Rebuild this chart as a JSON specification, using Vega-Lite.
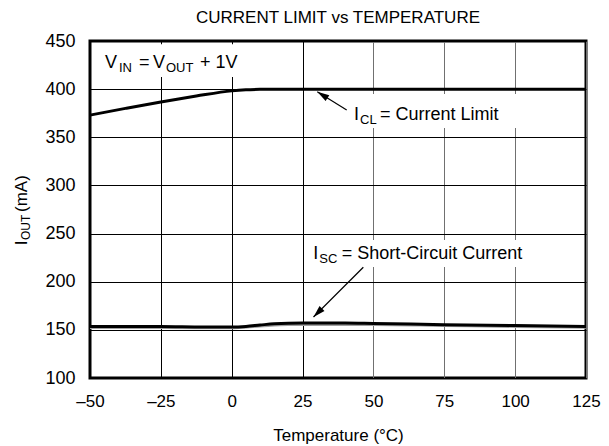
{
  "$schema": "https://vega.github.io/schema/vega-lite/v6.json",
  "autosize": "none",
  "width": 496,
  "height": 337,
  "padding": {"left": 90, "top": 41, "right": 23, "bottom": 68},
  "background": "white",
  "title": {"text": "CURRENT LIMIT vs TEMPERATURE", "fontSize": 17, "fontWeight": "normal", "font": "Liberation Sans", "color": "black", "anchor": "middle", "offset": 5},
  "config": {
    "view": {"stroke": "black", "strokeWidth": 3},
    "font": "Liberation Sans"
  },
  "datasets": {
    "cl": [
      {"t": -50, "v": 373}, {"t": -37.5, "v": 380}, {"t": -25, "v": 386.7}, {"t": -12.5, "v": 392.8},
      {"t": 0, "v": 398.2}, {"t": 5, "v": 399.3}, {"t": 10, "v": 399.8}, {"t": 15, "v": 400},
      {"t": 50, "v": 400}, {"t": 100, "v": 400}, {"t": 125, "v": 400}
    ],
    "sc": [
      {"t": -50, "v": 153.5}, {"t": -25, "v": 153.5}, {"t": -10, "v": 153}, {"t": 0, "v": 153},
      {"t": 5, "v": 153.6}, {"t": 10, "v": 155}, {"t": 15, "v": 156.3}, {"t": 25, "v": 157},
      {"t": 40, "v": 157}, {"t": 50, "v": 156.6}, {"t": 75, "v": 155.4}, {"t": 100, "v": 154.4}, {"t": 125, "v": 153.6}
    ],
    "sc2": [
      {"t": -50, "v": 151.8}, {"t": -25, "v": 151.8}, {"t": 0, "v": 151.6}, {"t": 10, "v": 153.5},
      {"t": 20, "v": 155}, {"t": 50, "v": 155}, {"t": 75, "v": 154}, {"t": 100, "v": 153}, {"t": 125, "v": 152.3}
    ],
    "boxes": [
      {"t1": -48.2, "t2": 4.7, "v1": 446.5, "v2": 412.6},
      {"t1": 40.0, "t2": 101.7, "v1": 395, "v2": 359.6},
      {"t1": 26.9, "t2": 107.0, "v1": 243.3, "v2": 215.3}
    ],
    "arrows": [
      {"t1": 40.57, "v1": 378.3, "t2": 30.19, "v2": 397.3, "ang": 302},
      {"t1": 46.43, "v1": 215.0, "t2": 28.86, "v2": 163.4, "ang": 225}
    ],
    "mainText": [
      {"t": -44.71, "v": 422, "s": "V"},
      {"t": -32.7, "v": 422, "s": "="},
      {"t": -27.77, "v": 422, "s": "V"},
      {"t": -11.2, "v": 422, "s": "+ 1V"},
      {"t": 43.15, "v": 368, "s": "I"},
      {"t": 52.32, "v": 368, "s": "= Current Limit"},
      {"t": 28.79, "v": 223.6, "s": "I"},
      {"t": 38.8, "v": 223.6, "s": "= Short-Circuit Current"}
    ],
    "subText": [
      {"t": -39.77, "v": 418, "s": "IN"},
      {"t": -23.19, "v": 418, "s": "OUT"},
      {"t": 45.26, "v": 363.8, "s": "CL"},
      {"t": 30.9, "v": 219.4, "s": "SC"}
    ],
    "yTitleMain": [
      {"t": -72.2, "v": 238, "s": "I"},
      {"t": -72.2, "v": 272.4, "s": " (mA)"}
    ],
    "yTitleSub": [
      {"t": -71.1, "v": 243.3, "s": "OUT"}
    ]
  },
  "layer": [
    {
      "data": {"name": "boxes"},
      "mark": {"type": "rect", "fill": "white"},
      "encoding": {
        "x": {"field": "t1", "type": "quantitative",
          "scale": {"domain": [-50, 125], "nice": false, "zero": false},
          "axis": {"values": [-50, -25, 0, 25, 50, 75, 100, 125], "title": "Temperature (°C)",
            "titleFontSize": 17, "titleFontWeight": "normal", "titleColor": "black", "titlePadding": 18,
            "labelFontSize": 17, "labelColor": "black", "labelPadding": 15, "labelFlush": false,
            "labelExpr": "datum.value < 0 ? '–' + abs(datum.value) : datum.label",
            "domain": false, "ticks": false, "grid": true, "gridWidth": 1,
            "gridColor": {"condition": {"test": "datum.value >= 50", "value": "#707070"}, "value": "black"},
            "gridOpacity": 1}},
        "x2": {"field": "t2"},
        "y": {"field": "v1", "type": "quantitative",
          "scale": {"domain": [100, 450], "nice": false, "zero": false},
          "axis": {"values": [100, 150, 200, 250, 300, 350, 400, 450], "title": null,
            "labelFontSize": 18, "labelColor": "black", "labelPadding": 15, "labelFlush": false,
            "domain": false, "ticks": false, "grid": true, "gridColor": "black", "gridWidth": 1, "gridOpacity": 1}},
        "y2": {"field": "v2"}
      }
    },
    {
      "data": {"name": "sc2"},
      "mark": {"type": "line", "color": "#a0a0a0", "strokeWidth": 2, "interpolate": "monotone"},
      "encoding": {"x": {"field": "t", "type": "quantitative"}, "y": {"field": "v", "type": "quantitative"}}
    },
    {
      "data": {"name": "sc"},
      "mark": {"type": "line", "color": "black", "strokeWidth": 3, "interpolate": "monotone"},
      "encoding": {"x": {"field": "t", "type": "quantitative"}, "y": {"field": "v", "type": "quantitative"}}
    },
    {
      "data": {"name": "cl"},
      "mark": {"type": "line", "color": "black", "strokeWidth": 3, "interpolate": "monotone"},
      "encoding": {"x": {"field": "t", "type": "quantitative"}, "y": {"field": "v", "type": "quantitative"}}
    },
    {
      "data": {"name": "arrows"},
      "mark": {"type": "rule", "color": "black", "strokeWidth": 1.2},
      "encoding": {
        "x": {"field": "t1", "type": "quantitative"}, "y": {"field": "v1", "type": "quantitative"},
        "x2": {"field": "t2"}, "y2": {"field": "v2"}
      }
    },
    {
      "data": {"name": "arrows"},
      "mark": {"type": "point", "shape": "M0,0L0.7,2.4L-0.7,2.4Z", "filled": true, "color": "black", "opacity": 1, "size": 100},
      "encoding": {
        "x": {"field": "t2", "type": "quantitative"}, "y": {"field": "v2", "type": "quantitative"},
        "angle": {"field": "ang", "type": "quantitative", "scale": null}
      }
    },
    {
      "data": {"name": "mainText"},
      "mark": {"type": "text", "align": "left", "baseline": "alphabetic", "fontSize": 18, "color": "black"},
      "encoding": {"x": {"field": "t", "type": "quantitative"}, "y": {"field": "v", "type": "quantitative"}, "text": {"field": "s"}}
    },
    {
      "data": {"name": "subText"},
      "mark": {"type": "text", "align": "left", "baseline": "alphabetic", "fontSize": 13, "color": "black"},
      "encoding": {"x": {"field": "t", "type": "quantitative"}, "y": {"field": "v", "type": "quantitative"}, "text": {"field": "s"}}
    },
    {
      "data": {"name": "yTitleMain"},
      "mark": {"type": "text", "align": "left", "baseline": "alphabetic", "fontSize": 17, "color": "black", "angle": 270},
      "encoding": {"x": {"field": "t", "type": "quantitative"}, "y": {"field": "v", "type": "quantitative"}, "text": {"field": "s"}}
    },
    {
      "data": {"name": "yTitleSub"},
      "mark": {"type": "text", "align": "left", "baseline": "alphabetic", "fontSize": 12, "color": "black", "angle": 270},
      "encoding": {"x": {"field": "t", "type": "quantitative"}, "y": {"field": "v", "type": "quantitative"}, "text": {"field": "s"}}
    }
  ]
}
